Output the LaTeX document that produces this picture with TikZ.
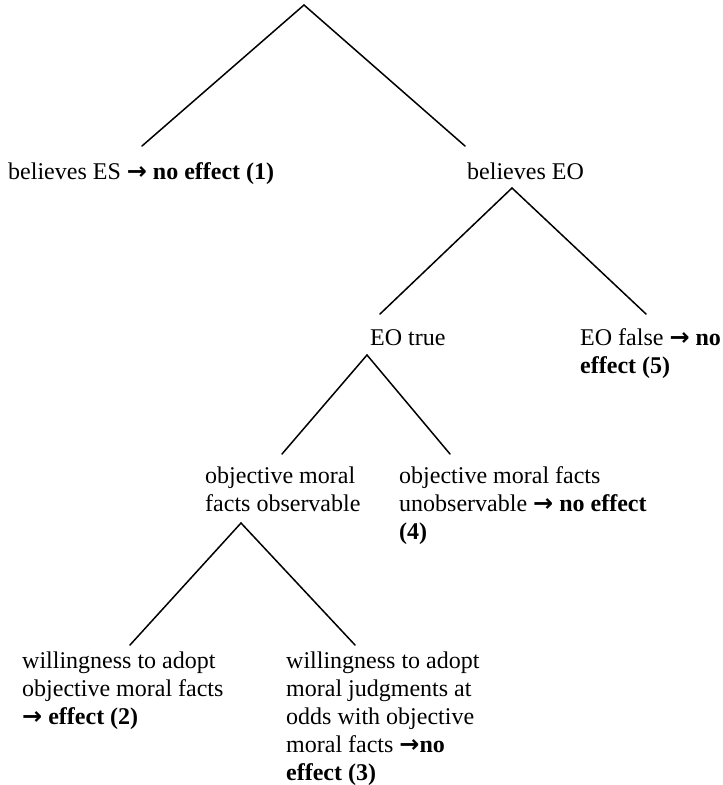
\documentclass[tikz,border=0pt]{standalone}
\usepackage{fontspec}
\setmainfont{Liberation Serif}
\newfontfamily\arrfont{DejaVu Sans}
\newcommand{\rar}{{\arrfont\bfseries →}}
\begin{document}
\begin{tikzpicture}[x=1pt,y=-1pt,
  lbl/.style={anchor=base west,inner sep=0pt,font=\fontsize{24}{28}\selectfont},
  edge/.style={line width=1.5pt,line cap=round}]
\useasboundingbox (0,0) rectangle (723,785);
% text nodes
\node[lbl] (es) at (8,179) {believes ES \rar{} \textbf{no effect (1)}};
\node[lbl] (eo) at (467,179) {believes EO};
\node[lbl] (eot) at (370,345) {EO true};
\node[lbl] (eof) at (580,345) {\vtop{\hbox{EO false \rar{} \textbf{no}}\hbox{\textbf{effect (5)}}}};
\node[lbl] (obs) at (205,483) {\vtop{\hbox{objective moral}\hbox{facts observable}}};
\node[lbl] (uno) at (399,483) {\vtop{\hbox{objective moral facts}\hbox{unobservable \rar{} \textbf{no effect}}\hbox{\textbf{(4)}}}};
\node[lbl] (w2) at (22,668) {\vtop{\hbox{willingness to adopt}\hbox{objective moral facts}\hbox{\rar{} \textbf{effect (2)}}}};
\node[lbl] (w3) at (286,668) {\vtop{\hbox{willingness to adopt}\hbox{moral judgments at}\hbox{odds with objective}\hbox{moral facts \rar\textbf{no}}\hbox{\textbf{effect (3)}}}};
% branch points
\coordinate (root) at (304,5);
\coordinate (rootL) at (142,146);
\coordinate (rootR) at (465,146);
\coordinate (eoA) at (512,188);
\coordinate (eoL) at (380,314);
\coordinate (eoR) at (646,314);
\coordinate (eotA) at (367,355);
\coordinate (eotL) at (282,454);
\coordinate (eotR) at (450,454);
\coordinate (obsA) at (241,523);
\coordinate (obsL) at (130,645);
\coordinate (obsR) at (355,645);
% connectors
\draw[edge] (rootL) -- (root) -- (rootR);
\draw[edge] (eoL) -- (eoA) -- (eoR);
\draw[edge] (eotL) -- (eotA) -- (eotR);
\draw[edge] (obsL) -- (obsA) -- (obsR);
\end{tikzpicture}
\end{document}
